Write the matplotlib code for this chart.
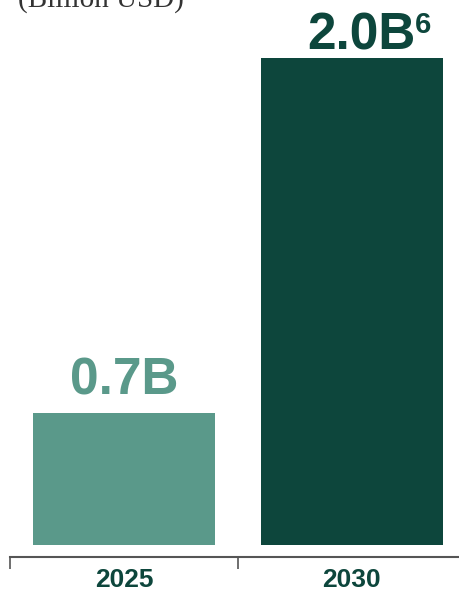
import matplotlib.pyplot as plt

years = ["2025", "2030"]
values = [0.7, 2.0]
value_labels = ["0.7B", "2.0B"]
footnote = "6"
unit_label = "(Billion USD)"

bar_colors = ["#5A998A", "#0D463C"]
label_colors = ["#5A998A", "#0D463C"]
dark_green = "#0D463C"

fig = plt.figure(figsize=(4.59, 5.90), dpi=100)
ax = fig.add_axes([10 / 459, 45 / 590, 449 / 459, 545 / 590])

x = list(range(len(years)))
bars = ax.bar(x, values, width=0.8, color=bar_colors)

for s in ["top", "right", "left"]:
    ax.spines[s].set_visible(False)
ax.spines["bottom"].set_position(("outward", 8.64))
ax.spines["bottom"].set_color("#555555")
ax.spines["bottom"].set_linewidth(1.5)

ax.set_yticks([])
ax.set_xticks([-0.5, 0.5, 1.5])
ax.set_xticklabels([])
ax.tick_params(axis="x", which="major", length=8.64, width=1.2, color="#555555", direction="out")
ax.set_xticks(x, minor=True)
ax.set_xticklabels(years, minor=True, fontsize=19, fontweight="bold",
                   family="Liberation Sans", color=dark_green)
ax.tick_params(axis="x", which="minor", length=0, pad=8)

# limits after the ticks, since set_xticks can widen the view
ax.set_xlim(-0.5, 1.47)
ax.set_ylim(0.2166, 2.212)

# value labels above bars
offsets = [(0, 18), (10, 8)]
for xi, v, lab, col, off in zip(x, values, value_labels, label_colors, offsets):
    ax.annotate(lab, (xi, v), xytext=off, textcoords="offset pixels",
                ha="center", va="baseline", fontsize=37, fontweight="bold",
                family="Liberation Sans", color=col)
# footnote marker on the last label
ax.annotate(footnote, (x[-1], values[-1]), xytext=(71, 25), textcoords="offset pixels",
            ha="center", va="baseline", fontsize=21, fontweight="bold",
            family="Liberation Sans", color=label_colors[-1])

fig.text(18 / 459, 1 - 7 / 590, unit_label, family="Liberation Serif", fontsize=21,
         color="#333333", ha="left", va="baseline")

fig.savefig("out.png", dpi=100)
